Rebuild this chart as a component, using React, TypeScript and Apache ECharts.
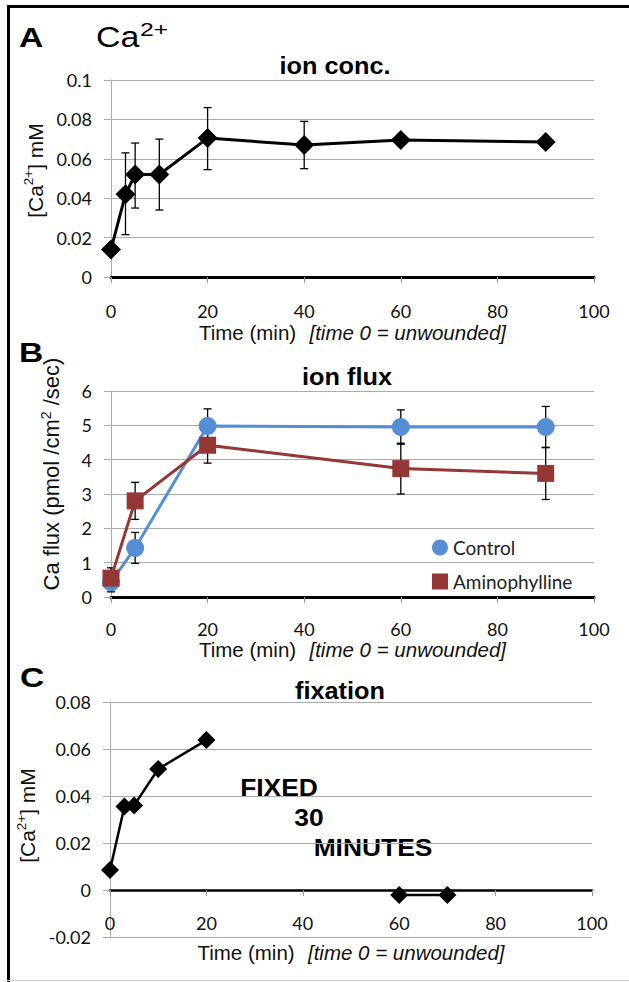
import React, { useEffect, useRef } from 'react';
import * as echarts from 'echarts';

// Panel A: ion concentration
const concTime = [0, 3, 5, 10, 20, 40, 60, 90];
const concValue = [0.014, 0.042, 0.052, 0.052, 0.0705, 0.067, 0.0695, 0.0685];
const concLow = [null, 0.0215, 0.035, 0.034, 0.0545, 0.055, null, null];
const concHigh = [null, 0.063, 0.068, 0.07, 0.086, 0.079, null, null];

// Panel B: ion flux
const fluxTime = [0, 5, 20, 60, 90];
const controlFlux = [0.43, 1.43, 4.98, 4.95, 4.95];
const controlErr = [0.28, 0.45, 0.5, 0.5, 0.6];
const aminoFlux = [0.55, 2.8, 4.42, 3.74, 3.6];
const aminoErr = [0.3, 0.54, 0.52, 0.74, 0.76];

// Panel C: fixation
const fixBeforeTime = [0, 3, 5, 10, 20];
const fixBeforeValue = [0.0085, 0.0355, 0.036, 0.0515, 0.0638];
const fixAfterTime = [60, 70];
const fixAfterValue = [-0.0021, -0.0021];
const fixNote = ['FIXED', '30', 'MINUTES'];

// Axes
const timeAxis = { min: 0, max: 100, interval: 20 };
const concAxis = { min: 0, max: 0.1, interval: 0.02 };
const fluxAxis = { min: 0, max: 6, interval: 1 };
const fixAxis = { min: -0.02, max: 0.08, interval: 0.02 };

const panelTitles = ['ion conc.', 'ion flux', 'fixation'];
const panelLetters = ['A', 'B', 'C'];
const seriesNames = ['Control', 'Aminophylline'];

const TICK_FONT = 'Lato, "Open Sans", sans-serif';
const SANS = '"Liberation Sans", Arial, sans-serif';
const GRID_GRAY = '#ABABAB';

function zip(xs: number[], ys: number[]) {
  return xs.map((x, i) => [x, ys[i]]);
}

function errorSeries(xAxisIndex: number, yAxisIndex: number, data: number[][]) {
  return {
    type: 'custom',
    xAxisIndex,
    yAxisIndex,
    data,
    z: 1,
    silent: true,
    encode: { x: 0, y: [1, 2] },
    renderItem: (params: any, api: any) => {
      const x = api.value(0);
      const lo = api.coord([x, api.value(1)]);
      const hi = api.coord([x, api.value(2)]);
      const w = 4;
      const style = { stroke: '#000', lineWidth: 1.3 };
      return {
        type: 'group',
        children: [
          { type: 'line', shape: { x1: lo[0], y1: lo[1], x2: hi[0], y2: hi[1] }, style },
          { type: 'line', shape: { x1: hi[0] - w, y1: hi[1], x2: hi[0] + w, y2: hi[1] }, style },
          { type: 'line', shape: { x1: lo[0] - w, y1: lo[1], x2: lo[0] + w, y2: lo[1] }, style },
        ],
      };
    },
  };
}

const xNameRich = {
  a: { fontFamily: SANS, fontSize: 20.5, color: '#111' },
  b: { fontFamily: SANS, fontSize: 20.5, fontStyle: 'italic', color: '#111' },
};

function xAxisCfg(gridIndex: number, nameGap: number, lineWidth: number, labelMargin: number) {
  return {
    type: 'value',
    gridIndex,
    ...timeAxis,
    name: '{a|Time (min)}    {b|[time 0 = unwounded]}',
    nameLocation: 'middle',
    nameGap,
    nameTextStyle: { rich: xNameRich },
    axisLine: { show: true, onZero: true, lineStyle: { color: '#000', width: lineWidth } },
    axisTick: { show: true, length: 6, lineStyle: { color: '#999', width: 1 } },
    axisLabel: { fontFamily: TICK_FONT, fontSize: 18, color: '#111', margin: labelMargin },
    splitLine: { show: false },
  };
}

function yAxisCfg(gridIndex: number, range: any, name: string, nameGap: number, shift: number, size: number) {
  return {
    type: 'value',
    gridIndex,
    ...range,
    name,
    nameLocation: 'middle',
    nameGap,
    nameTextStyle: {
      rich: {
        n: { fontFamily: SANS, fontSize: size, color: '#111' },
        s: { fontFamily: SANS, fontSize: size * 0.64, color: '#111', verticalAlign: 'top', lineHeight: size * 1.2 },
      },
      padding: [0, 0, 0, shift],
    },
    axisLine: { show: true, onZero: false, lineStyle: { color: GRID_GRAY, width: 1 } },
    axisTick: { show: true, length: 7, lineStyle: { color: GRID_GRAY, width: 1 } },
    axisLabel: { fontFamily: TICK_FONT, fontSize: 18, color: '#111', margin: 19 },
    splitLine: { show: true, lineStyle: { color: GRID_GRAY, width: 1 } },
  };
}

export default function App() {
  const ref = useRef<HTMLDivElement>(null);
  useEffect(() => {
    document.body.style.margin = '0';
    if (!ref.current) return;
    const chart = echarts.init(ref.current, null, { renderer: 'svg' });

    const concErr = concTime
      .map((t, i) => [t, concLow[i], concHigh[i]])
      .filter((d) => d[1] !== null) as number[][];
    const ctrlErr = fluxTime.map((t, i) => [t, controlFlux[i] - controlErr[i], controlFlux[i] + controlErr[i]]);
    const amErr = fluxTime.map((t, i) => [t, aminoFlux[i] - aminoErr[i], aminoFlux[i] + aminoErr[i]]);

    const centered = (text: string, x: number, y: number, size: number, bold: boolean, sx: number) => ({
      type: 'text',
      x,
      y,
      scaleX: sx,
      style: {
        text,
        x: 0,
        y: 0,
        align: 'center',
        verticalAlign: 'middle',
        fontFamily: SANS,
        fontSize: size,
        fontWeight: bold ? 'bold' : 'normal',
        fill: '#000',
      },
    });

    const noBounds = { outerBoundsMode: 'none', containLabel: false };

    // Panel C: labels hang just below the zero line, name below them
    const xC: any = xAxisCfg(2, 5, 2.5, -23);

    chart.setOption({
      animation: false,
      backgroundColor: '#fff',
      legend: {
        orient: 'vertical',
        left: 427,
        top: 533,
        itemGap: 15,
        itemWidth: 16,
        itemHeight: 16,
        textStyle: { fontFamily: TICK_FONT, fontSize: 19, color: '#222', padding: [0, 0, 0, 0] },
        data: [
          { name: seriesNames[0], icon: 'circle' },
          { name: seriesNames[1], icon: 'rect' },
        ],
      },
      grid: [
        { left: 111, top: 80, width: 483, height: 197, ...noBounds },
        { left: 111, top: 391, width: 483, height: 206, ...noBounds },
        { left: 110, top: 702, width: 482, height: 235, ...noBounds },
      ],
      xAxis: [xAxisCfg(0, 45, 3, 25), xAxisCfg(1, 42, 3, 23), xC],
      yAxis: [
        yAxisCfg(0, concAxis, '{n|[Ca}{s|2+}{n|] mM}', 61, 16, 21),
        yAxisCfg(1, fluxAxis, '{n|Ca flux (pmol /cm}{s|2}{n| /sec)}', 46, 40, 22),
        yAxisCfg(2, fixAxis, '{n|[Ca}{s|2+}{n|] mM}', 64, 8, 21),
      ],
      graphic: [
        { type: 'line', shape: { x1: 8.5, y1: 5, x2: 8.5, y2: 982 }, style: { stroke: '#000', lineWidth: 3 } },
        { type: 'line', shape: { x1: 7, y1: 6.5, x2: 629, y2: 6.5 }, style: { stroke: '#000', lineWidth: 3 } },
        { type: 'line', shape: { x1: 7, y1: 980.5, x2: 629, y2: 980.5 }, style: { stroke: '#ccc', lineWidth: 1 } },
        centered(panelLetters[0], 31, 37, 28, true, 1.2),
        centered(panelLetters[1], 31, 352, 28, true, 1.2),
        centered(panelLetters[2], 32, 677, 28, true, 1.2),
        {
          type: 'text',
          x: 96,
          y: 22,
          scaleX: 1.17,
          style: { text: 'Ca', x: 0, y: 0, fontFamily: SANS, fontSize: 29, fill: '#000' },
        },
        {
          type: 'text',
          x: 140,
          y: 20,
          scaleX: 1.3,
          style: { text: '2+', x: 0, y: 0, fontFamily: SANS, fontSize: 19, fill: '#000' },
        },
        centered(panelTitles[0], 335, 66, 23, true, 1.1),
        centered(panelTitles[1], 347, 377, 23, true, 1.1),
        centered(panelTitles[2], 340, 691, 23, true, 1.1),
        centered(fixNote[0], 279, 787, 24, true, 1.1),
        centered(fixNote[1], 309, 817, 24, true, 1.1),
        centered(fixNote[2], 373, 847, 24, true, 1.1),
      ],
      series: [
        errorSeries(0, 0, concErr),
        {
          type: 'line',
          xAxisIndex: 0,
          yAxisIndex: 0,
          data: zip(concTime, concValue),
          symbol: 'diamond',
          symbolSize: 20,
          z: 3,
          itemStyle: { color: '#000' },
          lineStyle: { color: '#000', width: 3 },
        },
        errorSeries(1, 1, ctrlErr),
        errorSeries(1, 1, amErr),
        {
          name: seriesNames[0],
          type: 'line',
          xAxisIndex: 1,
          yAxisIndex: 1,
          data: zip(fluxTime, controlFlux),
          symbol: 'circle',
          symbolSize: 18,
          z: 3,
          itemStyle: { color: '#568ED6' },
          lineStyle: { color: '#568ED6', width: 3 },
        },
        {
          name: seriesNames[1],
          type: 'line',
          xAxisIndex: 1,
          yAxisIndex: 1,
          data: zip(fluxTime, aminoFlux),
          symbol: 'rect',
          symbolSize: 17,
          z: 4,
          itemStyle: { color: '#953735' },
          lineStyle: { color: '#953735', width: 3 },
        },
        {
          type: 'line',
          xAxisIndex: 2,
          yAxisIndex: 2,
          data: zip(fixBeforeTime, fixBeforeValue),
          symbol: 'diamond',
          symbolSize: 18,
          z: 3,
          itemStyle: { color: '#000' },
          lineStyle: { color: '#000', width: 2.5 },
        },
        {
          type: 'line',
          xAxisIndex: 2,
          yAxisIndex: 2,
          data: zip(fixAfterTime, fixAfterValue),
          symbol: 'diamond',
          symbolSize: 18,
          z: 3,
          itemStyle: { color: '#000' },
          lineStyle: { color: '#000', width: 2.5 },
        },
      ],
    });
    return () => chart.dispose();
  }, []);
  return <div ref={ref} style={{ width: 629, height: 982 }} />;
}
